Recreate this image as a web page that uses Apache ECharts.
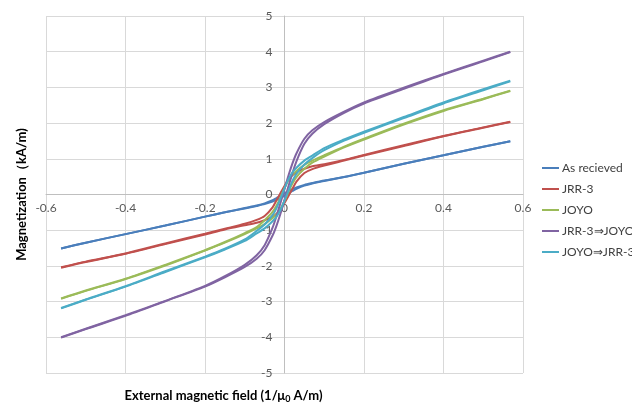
<!DOCTYPE html>
<html>
<head>
<meta charset="utf-8">
<script src="https://cdn.jsdelivr.net/npm/echarts@6/dist/echarts.min.js"></script>
<style>
html,body{margin:0;padding:0;background:#fff;}
#chart{width:632px;height:405px;}
</style>
</head>
<body>
<div id="chart"></div>
<script>
// External magnetic field grid (1/μ0 A/m)
var fieldGrid = [-0.562, -0.5, -0.4, -0.3, -0.2, -0.15, -0.1, -0.07, -0.05, -0.03, -0.02, -0.01, 0, 0.01, 0.02, 0.03, 0.05, 0.07, 0.1, 0.15, 0.2, 0.3, 0.4, 0.5, 0.568];

var seriesNames = ['As recieved', 'JRR-3', 'JOYO', 'JRR-3\u21D2JOYO', 'JOYO\u21D2JRR-3'];
var seriesColors = ['#4A7EBB', '#C0504D', '#9BBB59', '#8064A2', '#4BACC6'];

// Magnetization (kA/m): ascending-field branch (lower) and descending-field branch (upper)
var asRecievedUp   = [-1.51, -1.35, -1.11, -0.87, -0.62, -0.5, -0.39, -0.32, -0.27, -0.2, -0.15, -0.1, -0.03, 0.04, 0.1, 0.16, 0.25, 0.31, 0.38, 0.49, 0.61, 0.86, 1.1, 1.34, 1.49];
var asRecievedDown = [-1.51, -1.35, -1.11, -0.87, -0.62, -0.5, -0.38, -0.31, -0.25, -0.16, -0.1, -0.04, 0.03, 0.1, 0.15, 0.2, 0.27, 0.32, 0.39, 0.49, 0.61, 0.86, 1.1, 1.34, 1.49];

var jrr3Up   = [-2.05, -1.89, -1.66, -1.39, -1.12, -0.98, -0.86, -0.79, -0.72, -0.63, -0.54, -0.43, -0.24, -0.04, 0.16, 0.36, 0.6, 0.71, 0.81, 0.95, 1.09, 1.36, 1.63, 1.87, 2.03];
var jrr3Down = [-2.04, -1.88, -1.65, -1.37, -1.1, -0.96, -0.82, -0.71, -0.6, -0.36, -0.16, 0.04, 0.24, 0.43, 0.54, 0.63, 0.72, 0.79, 0.85, 0.97, 1.11, 1.38, 1.64, 1.88, 2.04];

var joyoUp   = [-2.92, -2.7, -2.37, -1.99, -1.57, -1.35, -1.11, -0.95, -0.83, -0.66, -0.55, -0.4, -0.18, 0.08, 0.31, 0.49, 0.72, 0.89, 1.06, 1.32, 1.54, 1.96, 2.34, 2.67, 2.9];
var joyoDown = [-2.91, -2.69, -2.36, -1.97, -1.56, -1.33, -1.08, -0.91, -0.72, -0.49, -0.31, -0.08, 0.18, 0.4, 0.55, 0.66, 0.83, 0.95, 1.1, 1.34, 1.56, 1.98, 2.36, 2.68, 2.91];

var jrr3JoyoUp   = [-4.01, -3.77, -3.4, -2.99, -2.58, -2.32, -2.03, -1.8, -1.56, -1.15, -0.87, -0.53, -0.15, 0.23, 0.6, 0.93, 1.42, 1.7, 1.97, 2.29, 2.55, 2.96, 3.36, 3.73, 3.99];
var jrr3JoyoDown = [-4.0, -3.76, -3.38, -2.98, -2.56, -2.29, -1.97, -1.7, -1.42, -0.93, -0.6, -0.23, 0.15, 0.53, 0.87, 1.15, 1.56, 1.8, 2.03, 2.32, 2.58, 2.99, 3.38, 3.75, 4.0];

var joyoJrr3Up   = [-3.19, -2.95, -2.58, -2.17, -1.76, -1.54, -1.3, -1.09, -0.95, -0.75, -0.62, -0.43, -0.17, 0.11, 0.38, 0.58, 0.84, 1.02, 1.24, 1.51, 1.73, 2.14, 2.55, 2.92, 3.17];
var joyoJrr3Down = [-3.18, -2.94, -2.57, -2.15, -1.74, -1.52, -1.26, -1.02, -0.84, -0.58, -0.38, -0.11, 0.17, 0.43, 0.62, 0.75, 0.95, 1.09, 1.3, 1.54, 1.76, 2.17, 2.58, 2.95, 3.19];

var xTicks = [-0.6, -0.4, -0.2, 0, 0.2, 0.4, 0.6];
var yTicks = [-5, -4, -3, -2, -1, 0, 1, 2, 3, 4, 5];

var branches = [
  [asRecievedUp, asRecievedDown],
  [jrr3Up, jrr3Down],
  [joyoUp, joyoDown],
  [jrr3JoyoUp, jrr3JoyoDown],
  [joyoJrr3Up, joyoJrr3Down]
];

function pairs(ys) {
  return fieldGrid.map(function (x, i) { return [x, ys[i]]; });
}

var series = [];
branches.forEach(function (b, i) {
  b.forEach(function (ys) {
    series.push({
      name: seriesNames[i],
      type: 'line',
      data: pairs(ys),
      showSymbol: false,
      symbol: 'none',
      smooth: 0.25,
      lineStyle: { width: 2, color: seriesColors[i] },
      itemStyle: { color: seriesColors[i] },
      emphasis: { disabled: true },
      animation: false
    });
  });
});

var GRID_L = 46, GRID_R = 109, GRID_T = 16, GRID_B = 32;
var W = 632, H = 405;
var plotW = W - GRID_L - GRID_R, plotH = H - GRID_T - GRID_B;
// axes cross at zero: shift them from the plot edges to the zero lines
var yAxisShift = plotW * (0 - xTicks[0]) / (xTicks[xTicks.length - 1] - xTicks[0]);
var xAxisShift = plotH * (0 - yTicks[0]) / (yTicks[yTicks.length - 1] - yTicks[0]);

var chart = echarts.init(document.getElementById('chart'), null, { renderer: 'canvas' });
var fontFam = 'Lato, "Open Sans", sans-serif';
chart.setOption({
  animation: false,
  backgroundColor: '#ffffff',
  textStyle: { fontFamily: fontFam },
  grid: { left: GRID_L, right: GRID_R, top: GRID_T, bottom: GRID_B, containLabel: false, outerBoundsMode: 'none' },
  legend: {
    data: seriesNames,
    orient: 'vertical',
    left: 537,
    top: 157,
    icon: 'rect',
    itemWidth: 17,
    itemHeight: 2,
    itemGap: 9,
    textStyle: { fontSize: 12, color: '#404040', fontFamily: fontFam, padding: [0, 0, 0, -2] }
  },
  xAxis: {
    type: 'value',
    position: 'bottom',
    offset: -xAxisShift,
    min: xTicks[0],
    max: xTicks[xTicks.length - 1],
    interval: 0.2,
    axisLine: { onZero: false, lineStyle: { color: '#BFBFBF', width: 1 } },
    axisTick: { show: false },
    axisLabel: {
      color: '#595959', fontSize: 12, margin: 8,
      formatter: function (v) { var r = Math.round(v * 10) / 10; return String(r); }
    },
    splitLine: { show: true, lineStyle: { color: '#D9D9D9', width: 1 } },
    name: '{b|External magnetic field (1/\u03BC}{s|0}{b| A/m)}',
    nameLocation: 'middle',
    nameGap: 194,
    nameTextStyle: {
      padding: [0, 122, 0, 0],
      rich: {
        b: { fontSize: 13, fontWeight: 'bold', color: '#000', fontFamily: fontFam },
        s: { fontSize: 9, fontWeight: 'bold', color: '#000', fontFamily: fontFam, verticalAlign: 'bottom', padding: [6, 0, 0, 0] }
      }
    }
  },
  yAxis: {
    type: 'value',
    position: 'left',
    offset: -yAxisShift,
    min: yTicks[0],
    max: yTicks[yTicks.length - 1],
    interval: 1,
    axisLine: { onZero: false, lineStyle: { color: '#BFBFBF', width: 1 } },
    axisTick: { show: false },
    axisLabel: { color: '#595959', fontSize: 12, margin: 12 },
    splitLine: { show: true, lineStyle: { color: '#D9D9D9', width: 1 } },
    name: 'Magnetization\uFF08kA/m)',
    nameLocation: 'middle',
    nameGap: 256,
    nameRotate: 90,
    nameTextStyle: { fontSize: 13, fontWeight: 'bold', color: '#000', fontFamily: fontFam }
  },
  series: series
});
</script>
</body>
</html>
